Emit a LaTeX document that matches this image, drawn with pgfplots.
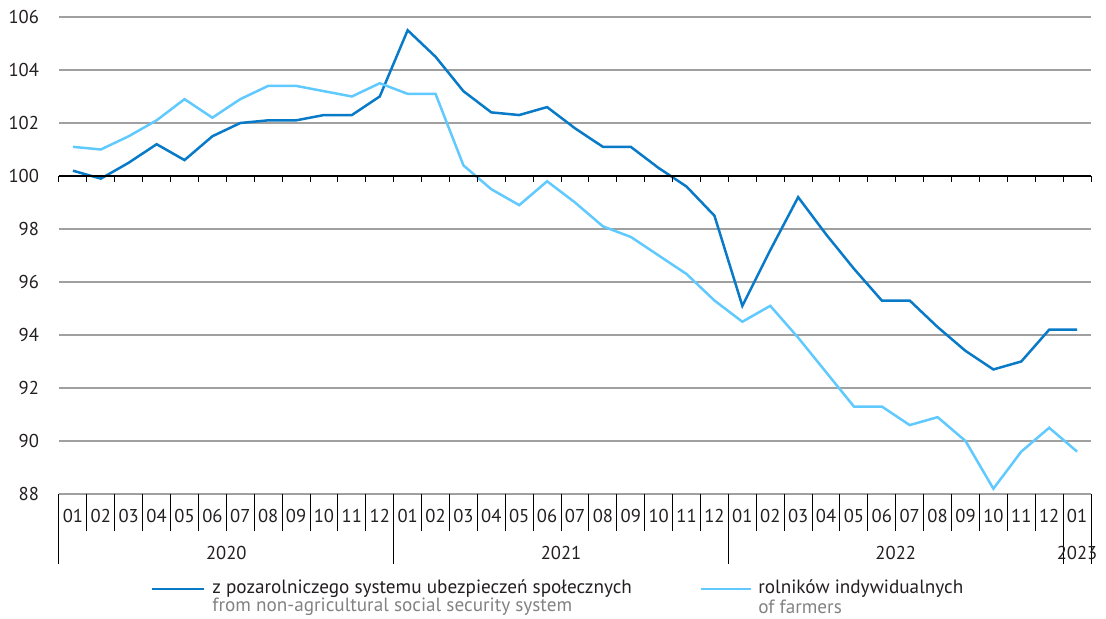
\documentclass[border=0pt]{standalone}
\usepackage{pgfplots}
\pgfplotsset{compat=1.18}
\usepackage{fontspec}
\setmainfont{PT Sans}
\definecolor{darkb}{RGB}{8,122,200}
\definecolor{lightb}{RGB}{96,202,255}
\definecolor{gridg}{RGB}{160,160,160}
\definecolor{legg}{RGB}{130,130,130}
\definecolor{txt}{RGB}{35,31,32}
\begin{document}
\begin{tikzpicture}
\useasboundingbox (-29.5pt,-62.5pt) rectangle (523.5pt,247pt);
\begin{axis}[
  at={(0,0)}, anchor=south west,
  scale only axis, width=516pt, height=238.5pt,
  xmin=-0.5, xmax=36.5, ymin=88, ymax=106,
  ytick={88,90,...,106},
  xtick={0,...,36},
  xticklabels={01,02,03,04,05,06,07,08,09,10,11,12,01,02,03,04,05,06,07,08,09,10,11,12,01,02,03,04,05,06,07,08,09,10,11,12,01},
  major tick length=0pt,
  axis line style={draw=none},
  ymajorgrids, grid style={gridg, line width=0.6pt},
  tick label style={font=\fontsize{9.3}{10}\selectfont, text=txt},
  /pgf/number format/assume math mode=true,
  yticklabel style={xshift=-6.5pt},
  xticklabel style={anchor=center, yshift=-11pt},
  clip=false,
]
\addplot[darkb, line width=1.25pt] coordinates {
(0,100.2)(1,99.9)(2,100.5)(3,101.2)(4,100.6)(5,101.5)(6,102.0)(7,102.1)(8,102.1)(9,102.3)(10,102.3)(11,103.0)
(12,105.5)(13,104.5)(14,103.2)(15,102.4)(16,102.3)(17,102.6)(18,101.8)(19,101.1)(20,101.1)(21,100.3)(22,99.6)(23,98.5)
(24,95.1)(25,97.2)(26,99.2)(27,97.8)(28,96.5)(29,95.3)(30,95.3)(31,94.3)(32,93.4)(33,92.7)(34,93.0)(35,94.2)
(36,94.2)};
\addplot[lightb, line width=1.25pt] coordinates {
(0,101.1)(1,101.0)(2,101.5)(3,102.1)(4,102.9)(5,102.2)(6,102.9)(7,103.4)(8,103.4)(9,103.2)(10,103.0)(11,103.5)
(12,103.1)(13,103.1)(14,100.4)(15,99.5)(16,98.9)(17,99.8)(18,99.0)(19,98.1)(20,97.7)(21,97.0)(22,96.3)(23,95.3)
(24,94.5)(25,95.1)(26,93.9)(27,92.6)(28,91.3)(29,91.3)(30,90.6)(31,90.9)(32,90.0)(33,88.2)(34,89.6)(35,90.5)
(36,89.6)};
% black axis line at 100 with ticks
\draw[black, line width=0.6pt] (axis cs:-0.5,100) -- (axis cs:36.5,100);
\pgfplotsinvokeforeach{-0.5,0.5,...,36.5}{
  \draw[black, line width=0.5pt] (axis cs:#1,100) -- ([yshift=-3pt]axis cs:#1,100);
  \draw[black, line width=0.5pt] (axis cs:#1,88) -- ([yshift=-18.5pt]axis cs:#1,88);
}
\pgfplotsinvokeforeach{-0.5,11.5,23.5,35.5,36.5}{
  \draw[black, line width=0.5pt] (axis cs:#1,88) -- ([yshift=-35pt]axis cs:#1,88);
}
\node[font=\fontsize{9.3}{10}\selectfont, text=txt] at ([yshift=-29.5pt]axis cs:5.5,88) {2020};
\node[font=\fontsize{9.3}{10}\selectfont, text=txt] at ([yshift=-29.5pt]axis cs:17.5,88) {2021};
\node[font=\fontsize{9.3}{10}\selectfont, text=txt] at ([yshift=-29.5pt]axis cs:29.5,88) {2022};
\node[font=\fontsize{9.3}{10}\selectfont, text=txt] at ([yshift=-29.5pt]axis cs:36,88) {2023};
% legend
\draw[darkb, line width=1.25pt] ([xshift=46.5pt,yshift=-47.5pt]axis cs:-0.5,88) -- ([xshift=72.3pt,yshift=-47.5pt]axis cs:-0.5,88);
\node[anchor=west, inner sep=0pt, text=txt, font=\fontsize{9.6}{10}\selectfont] at ([xshift=76.5pt,yshift=-47.5pt]axis cs:-0.5,88) {z pozarolniczego systemu ubezpieczeń społecznych};
\node[anchor=west, inner sep=0pt, text=legg, font=\fontsize{9.6}{10}\selectfont] at ([xshift=76.5pt,yshift=-56.5pt]axis cs:-0.5,88) {from non-agricultural social security system};
\draw[lightb, line width=1.25pt] ([xshift=320.8pt,yshift=-47.5pt]axis cs:-0.5,88) -- ([xshift=346pt,yshift=-47.5pt]axis cs:-0.5,88);
\node[anchor=west, inner sep=0pt, text=txt, font=\fontsize{9.6}{10}\selectfont] at ([xshift=349.5pt,yshift=-47.5pt]axis cs:-0.5,88) {rolników indywidualnych};
\node[anchor=west, inner sep=0pt, text=legg, font=\fontsize{9.6}{10}\selectfont] at ([xshift=349.5pt,yshift=-56.5pt]axis cs:-0.5,88) {of farmers};
\end{axis}
\end{tikzpicture}
\end{document}
